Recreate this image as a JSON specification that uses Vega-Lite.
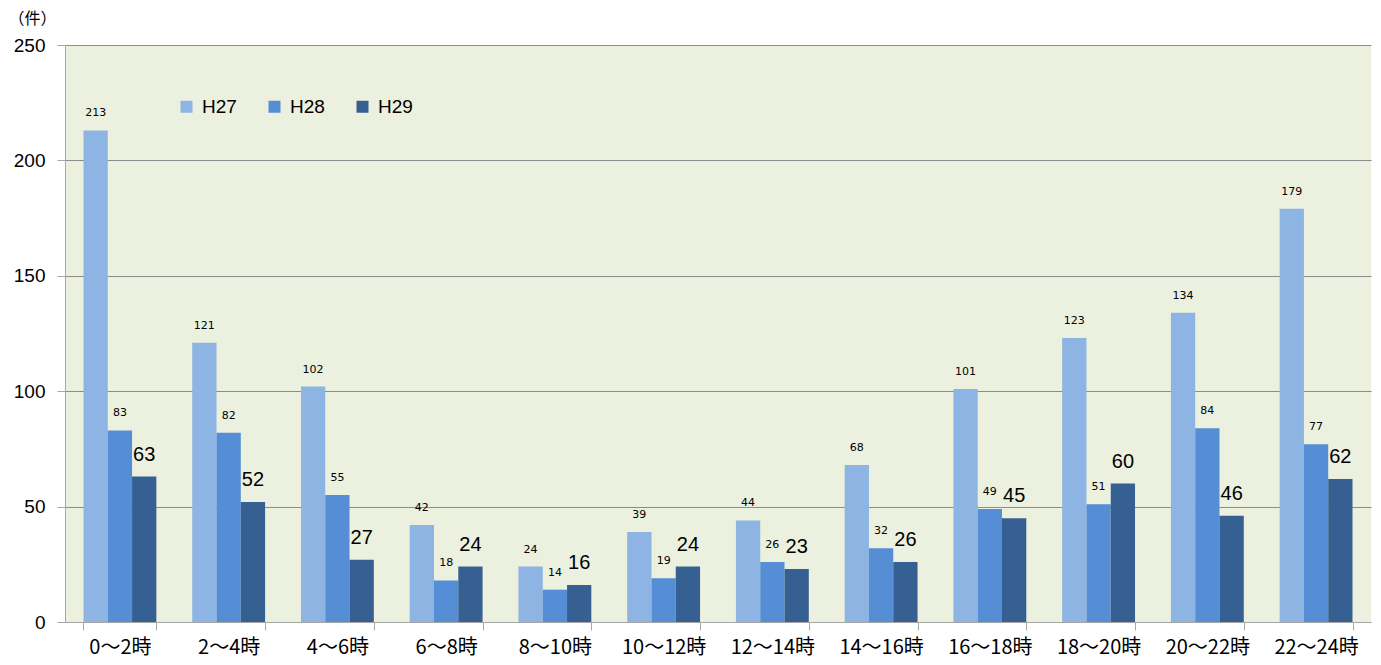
{
  "$schema": "https://vega.github.io/schema/vega-lite/v6.json",
  "autosize": "none",
  "width": 1306,
  "height": 577,
  "padding": {"left": 65, "top": 45, "right": 10, "bottom": 43},
  "background": "white",
  "config": {
    "view": {"fill": "#ECF0DF", "stroke": null},
    "font": "Liberation Sans"
  },
  "data": {
    "values": [
      {"time": "0～2時", "series": "H27", "count": 213},
      {"time": "0～2時", "series": "H28", "count": 83},
      {"time": "0～2時", "series": "H29", "count": 63},
      {"time": "2～4時", "series": "H27", "count": 121},
      {"time": "2～4時", "series": "H28", "count": 82},
      {"time": "2～4時", "series": "H29", "count": 52},
      {"time": "4～6時", "series": "H27", "count": 102},
      {"time": "4～6時", "series": "H28", "count": 55},
      {"time": "4～6時", "series": "H29", "count": 27},
      {"time": "6～8時", "series": "H27", "count": 42},
      {"time": "6～8時", "series": "H28", "count": 18},
      {"time": "6～8時", "series": "H29", "count": 24},
      {"time": "8～10時", "series": "H27", "count": 24},
      {"time": "8～10時", "series": "H28", "count": 14},
      {"time": "8～10時", "series": "H29", "count": 16},
      {"time": "10～12時", "series": "H27", "count": 39},
      {"time": "10～12時", "series": "H28", "count": 19},
      {"time": "10～12時", "series": "H29", "count": 24},
      {"time": "12～14時", "series": "H27", "count": 44},
      {"time": "12～14時", "series": "H28", "count": 26},
      {"time": "12～14時", "series": "H29", "count": 23},
      {"time": "14～16時", "series": "H27", "count": 68},
      {"time": "14～16時", "series": "H28", "count": 32},
      {"time": "14～16時", "series": "H29", "count": 26},
      {"time": "16～18時", "series": "H27", "count": 101},
      {"time": "16～18時", "series": "H28", "count": 49},
      {"time": "16～18時", "series": "H29", "count": 45},
      {"time": "18～20時", "series": "H27", "count": 123},
      {"time": "18～20時", "series": "H28", "count": 51},
      {"time": "18～20時", "series": "H29", "count": 60},
      {"time": "20～22時", "series": "H27", "count": 134},
      {"time": "20～22時", "series": "H28", "count": 84},
      {"time": "20～22時", "series": "H29", "count": 46},
      {"time": "22～24時", "series": "H27", "count": 179},
      {"time": "22～24時", "series": "H28", "count": 77},
      {"time": "22～24時", "series": "H29", "count": 62}
    ]
  },
  "encoding": {
    "x": {
      "field": "time", "type": "nominal", "sort": null,
      "scale": {"paddingInner": 0.33, "paddingOuter": 0.17},
      "axis": {
        "title": null, "labelAngle": 0, "labelFont": "Noto Sans CJK JP", "labelFontSize": 20,
        "labelColor": "#000000", "labelPadding": 7, "tickBand": "extent", "tickSize": 8,
        "tickColor": "#A6A6A6", "domainColor": "#A6A6A6", "grid": false
      }
    },
    "xOffset": {"field": "series", "type": "nominal", "scale": {"paddingInner": 0, "paddingOuter": 0}},
    "y": {
      "field": "count", "type": "quantitative",
      "scale": {"domain": [0, 250], "nice": false},
      "axis": {
        "values": [0, 50, 100, 150, 200, 250], "labelFontSize": 19, "labelColor": "#000000",
        "labelPadding": 12, "tickSize": 8, "tickColor": "#A6A6A6", "domainColor": "#A6A6A6",
        "gridColor": "#8C8C8C", "gridWidth": 1,
        "title": "（件）", "titleAngle": 0, "titleFont": "Noto Sans CJK JP", "titleFontSize": 16,
        "titleFontWeight": "normal", "titleAlign": "left", "titleBaseline": "middle",
        "titleX": -57, "titleY": -27, "titleColor": "#000000"
      }
    }
  },
  "layer": [
    {
      "mark": {"type": "bar"},
      "encoding": {
        "color": {
          "field": "series", "type": "nominal",
          "scale": {"domain": ["H27", "H28", "H29"], "range": ["#8EB4E3", "#558ED5", "#376092"]},
          "legend": {
            "title": null, "orient": "none", "legendX": 112, "legendY": 52, "direction": "horizontal",
            "symbolType": "square", "symbolSize": 144, "symbolStrokeWidth": 0, "labelFontSize": 19,
            "labelColor": "#000000", "labelOffset": 6, "columnPadding": 28
          }
        }
      }
    },
    {
      "transform": [{"filter": "datum.series !== 'H29'"}],
      "mark": {"type": "text", "font": "DejaVu Sans", "fontSize": 11, "dy": -14, "baseline": "alphabetic", "color": "#000000"},
      "encoding": {"text": {"field": "count", "type": "quantitative"}}
    },
    {
      "transform": [{"filter": "datum.series === 'H29'"}],
      "mark": {"type": "text", "font": "Liberation Sans", "fontSize": 20, "dy": -16, "baseline": "alphabetic", "color": "#000000"},
      "encoding": {"text": {"field": "count", "type": "quantitative"}}
    }
  ]
}
